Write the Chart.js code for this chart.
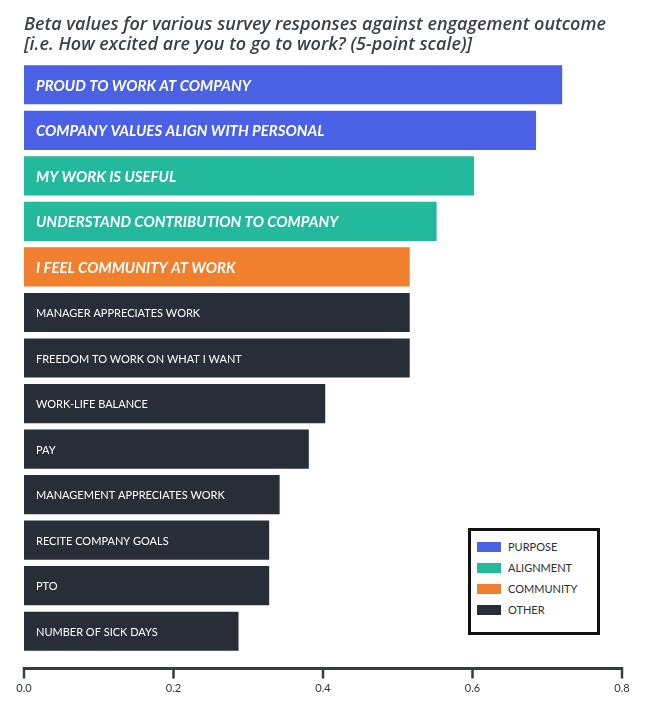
<!DOCTYPE html>
<html>
<head>
<meta charset="utf-8">
<script src="https://cdn.jsdelivr.net/npm/chart.js@4"></script>
<style>
  html, body { margin: 0; padding: 0; background: #ffffff; }
  #wrap { position: relative; width: 656px; height: 710px; }
  #legend {
    position: absolute; left: 468px; top: 528px; width: 126px; height: 96px;
    border: 3px solid #111111; background: #ffffff;
    font-family: Lato, "Open Sans", sans-serif; font-size: 11px; color: #2b2f36;
    padding-top: 5px; box-sizing: content-box;
  }
  #legend div { height: 21px; display: flex; align-items: center; }
  #legend span.sw { display: inline-block; width: 24px; height: 10px; margin-left: 6px; margin-right: 7px; }
</style>
</head>
<body>
<div id="wrap">
  <canvas id="chart" width="656" height="710"></canvas>
  <div id="legend"></div>
</div>
<script>
// survey items, top to bottom
const labels = [
  'PROUD TO WORK AT COMPANY',
  'COMPANY VALUES ALIGN WITH PERSONAL',
  'MY WORK IS USEFUL',
  'UNDERSTAND CONTRIBUTION TO COMPANY',
  'I FEEL COMMUNITY AT WORK',
  'MANAGER APPRECIATES WORK',
  'FREEDOM TO WORK ON WHAT I WANT',
  'WORK-LIFE BALANCE',
  'PAY',
  'MANAGEMENT APPRECIATES WORK',
  'RECITE COMPANY GOALS',
  'PTO',
  'NUMBER OF SICK DAYS'
];
const betaValues = [0.72, 0.685, 0.602, 0.552, 0.516, 0.516, 0.516, 0.403, 0.381, 0.342, 0.328, 0.328, 0.287];
const groups = ['PURPOSE', 'PURPOSE', 'ALIGNMENT', 'ALIGNMENT', 'COMMUNITY',
  'OTHER', 'OTHER', 'OTHER', 'OTHER', 'OTHER', 'OTHER', 'OTHER', 'OTHER'];
const groupNames = ['PURPOSE', 'ALIGNMENT', 'COMMUNITY', 'OTHER'];
const groupColors = ['#4a61e6', '#23b99d', '#f07f2e', '#282e37'];
const xTicks = [0, 0.2, 0.4, 0.6, 0.8];
const titleLines = [
  'Beta values for various survey responses against engagement outcome',
  '[i.e. How excited are you to go to work? (5-point scale)]'
];

const colorOf = g => groupColors[groupNames.indexOf(g)];
const axisColor = '#373c44';

// legend box
const legendEl = document.getElementById('legend');
groupNames.forEach((g, i) => {
  const row = document.createElement('div');
  row.innerHTML = '<span class="sw" style="background:' + groupColors[i] + '"></span>' + g;
  legendEl.appendChild(row);
});

// text inside each bar
const barLabels = {
  id: 'barLabels',
  afterDatasetsDraw(chart) {
    const ctx = chart.ctx;
    const x0 = chart.scales.x.getPixelForValue(0);
    chart.getDatasetMeta(0).data.forEach((bar, i) => {
      ctx.save();
      ctx.fillStyle = '#ffffff';
      ctx.textBaseline = 'middle';
      if (groups[i] !== 'OTHER') {
        ctx.font = 'italic 700 15px Lato, "Open Sans", sans-serif';
      } else {
        ctx.font = '400 11px Lato, "Open Sans", sans-serif';
      }
      ctx.fillText(labels[i], x0 + 12, bar.y + 1);
      ctx.restore();
    });
  }
};

// x axis line sits a little below the last bar
const axisLine = {
  id: 'axisLine',
  afterDraw(chart) {
    const ctx = chart.ctx;
    const sx = chart.scales.x;
    const y = chart.chartArea.bottom + 14.5;
    ctx.save();
    ctx.strokeStyle = axisColor;
    ctx.lineWidth = 3;
    ctx.beginPath();
    ctx.moveTo(sx.getPixelForValue(xTicks[0]) - 1, y);
    ctx.lineTo(sx.getPixelForValue(xTicks[xTicks.length - 1]) + 1, y);
    ctx.stroke();
    ctx.lineWidth = 2.5;
    xTicks.forEach(v => {
      const px = sx.getPixelForValue(v);
      ctx.beginPath();
      ctx.moveTo(px, y - 1.5);
      ctx.lineTo(px, y + 10);
      ctx.stroke();
    });
    ctx.restore();
  }
};

new Chart(document.getElementById('chart'), {
  type: 'bar',
  data: {
    labels: labels,
    datasets: [{
      data: betaValues,
      backgroundColor: groups.map(colorOf),
      borderWidth: 0,
      barPercentage: 0.86,
      categoryPercentage: 1.0
    }]
  },
  options: {
    indexAxis: 'y',
    responsive: false,
    animation: false,
    layout: { padding: { left: 24, right: 34, top: 0, bottom: 14 } },
    plugins: {
      legend: { display: false },
      tooltip: { enabled: false },
      title: {
        display: true,
        text: titleLines,
        align: 'start',
        color: '#3b4049',
        font: { family: '"Open Sans", Lato, sans-serif', size: 18, style: 'italic', weight: '600', lineHeight: 1.07 },
        padding: { top: 15.5, bottom: 8 }
      }
    },
    scales: {
      y: { display: false, offset: true },
      x: {
        min: 0,
        max: 0.8,
        grid: { display: false, drawTicks: false },
        border: { display: false },
        ticks: {
          stepSize: 0.2,
          padding: 28,
          color: '#2f333a',
          font: { family: 'Lato, "Open Sans", sans-serif', size: 11 },
          callback: v => Number(v).toFixed(1)
        },
        afterFit(scale) {
          // keep the plot edge at the layout padding and a compact axis band
          scale.paddingLeft = 0;
          scale.paddingRight = 0;
          scale.height = 42;
        }
      }
    }
  },
  plugins: [barLabels, axisLine]
});
</script>
</body>
</html>
